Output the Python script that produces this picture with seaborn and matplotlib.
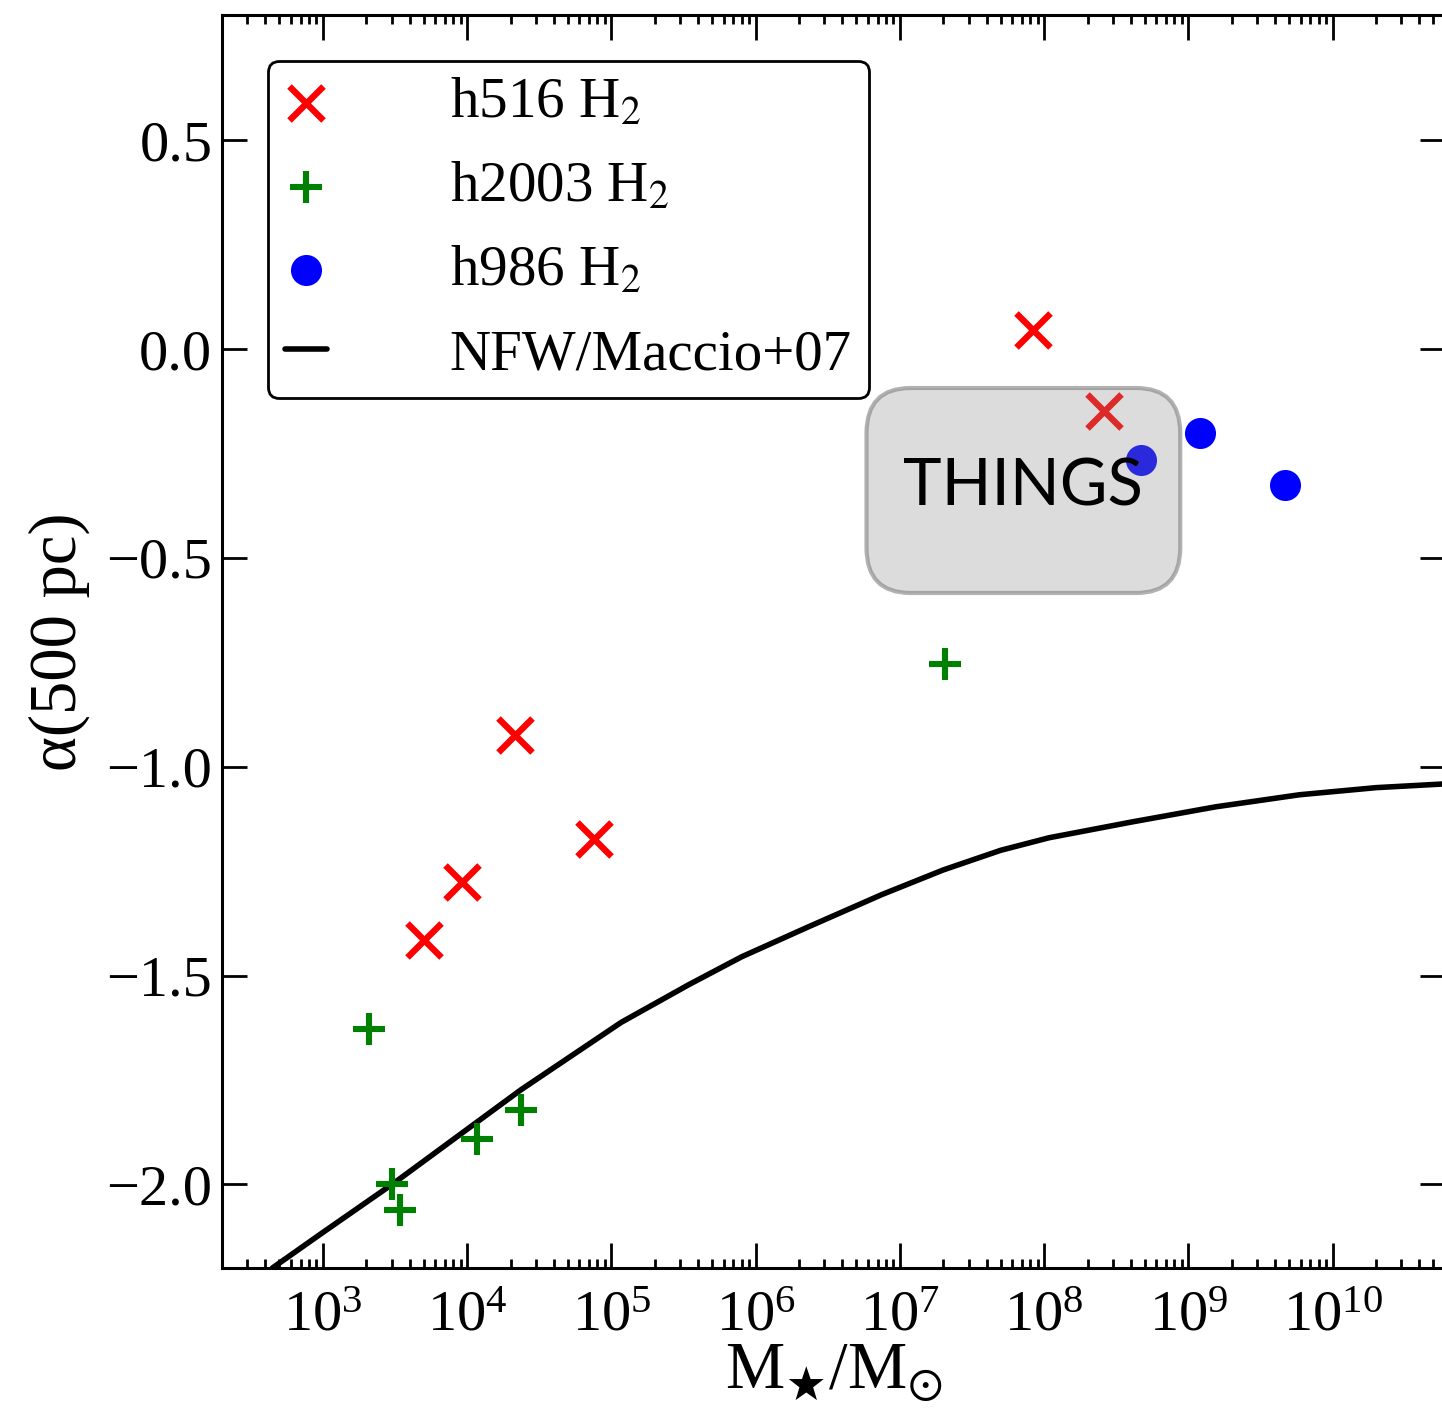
import matplotlib
matplotlib.use("Agg")
import matplotlib.pyplot as plt
import seaborn as sns
import numpy as np
from matplotlib.patches import FancyBboxPatch
from matplotlib.ticker import LogLocator, MultipleLocator, NullFormatter

# stellar mass (Msun) and inner slope alpha(500 pc)
h516_mstar = [5.0e3, 9.2e3, 2.15e4, 7.6e4, 8.4e7, 2.6e8]
h516_alpha = [-1.414, -1.275, -0.923, -1.172, 0.045, -0.148]

h2003_mstar = [2.1e3, 3.0e3, 3.4e3, 1.17e4, 2.37e4, 2.06e7]
h2003_alpha = [-1.627, -2.0, -2.062, -1.892, -1.821, -0.754]

h986_mstar = [4.7e8, 1.21e9, 4.7e9]
h986_alpha = [-0.266, -0.201, -0.325]

# NFW / Maccio+07 expectation
nfw_mstar = [4.47e2, 1.0e3, 3.16e3, 1.0e4, 2.37e4, 1.17e5, 3.43e5, 8.0e5, 2.33e6,
             7.5e6, 2.0e7, 5.0e7, 1.08e8, 4.08e8, 1.54e9, 5.9e9, 2.0e10, 6.0e10]
nfw_alpha = [-2.20, -2.115, -1.995, -1.868, -1.773, -1.612, -1.522, -1.455, -1.383,
             -1.306, -1.247, -1.200, -1.170, -1.132, -1.096, -1.067, -1.050, -1.041]

sns.set_style("ticks")
plt.rcParams['font.family'] = ['Liberation Serif', 'DejaVu Serif']
plt.rcParams['mathtext.fontset'] = 'stix'
plt.rcParams['axes.unicode_minus'] = True
for k in ['text.color', 'axes.labelcolor', 'xtick.color', 'ytick.color', 'axes.edgecolor']:
    plt.rcParams[k] = 'black'

fig = plt.figure(figsize=(7.21, 7.085), dpi=200)
ax = fig.add_axes([0.154, 0.1052, 0.848, 0.8842])

sns.scatterplot(x=h516_mstar, y=h516_alpha, ax=ax, marker="x", color="red",
                s=150, linewidth=2.3, label=r"h516 H$_2$", zorder=3)
sns.scatterplot(x=h2003_mstar, y=h2003_alpha, ax=ax, marker="+", color="green",
                s=135, linewidth=2.2, label=r"h2003 H$_2$", zorder=3)
sns.scatterplot(x=h986_mstar, y=h986_alpha, ax=ax, marker="o", color="blue",
                s=125, linewidth=0, label=r"h986 H$_2$", zorder=3)
sns.lineplot(x=nfw_mstar, y=nfw_alpha, ax=ax, color="black", lw=2.0,
             label="NFW/Maccio+07", zorder=2)

ax.set_xscale("log")
ax.set_xlim(2.0e2, 6.0e10)
ax.set_ylim(-2.2, 0.8)

ax.xaxis.set_major_locator(LogLocator(base=10, numticks=20))
ax.xaxis.set_minor_locator(LogLocator(base=10, subs=np.arange(2, 10), numticks=20))
ax.xaxis.set_minor_formatter(NullFormatter())
ax.yaxis.set_major_locator(MultipleLocator(0.5))

ax.tick_params(which="both", direction="in", top=True, right=True, labelsize=21,
               width=1.0, color="black")
ax.tick_params(which="major", length=9)
ax.tick_params(which="minor", length=3.3)
ax.tick_params(axis="x", which="major", pad=8)
for s in ax.spines.values():
    s.set_linewidth(1.1)
    s.set_color("black")

ax.set_xlabel(r"M$_{\bigstar}$/M$_{\odot}$", fontsize=24, labelpad=0)
ax.set_ylabel("α(500 pc)", fontsize=24, labelpad=6)

# THINGS region
box = FancyBboxPatch((0.527, 0.5387), 0.2566, 0.1636,
                     boxstyle="round,pad=0,rounding_size=0.036",
                     transform=ax.transAxes, facecolor=(0.55, 0.55, 0.55, 0.3),
                     edgecolor=(0.5, 0.5, 0.5, 0.6), linewidth=1.5, zorder=4)
ax.add_patch(box)
ax.text(0.527 + 0.2566 / 2, 0.5387 + 0.1636 / 2 + 0.003, "THINGS",
        transform=ax.transAxes, ha="center", va="center", fontsize=23.5,
        color="black", family=["Lato", "DejaVu Sans"], zorder=5)

leg = ax.legend(loc="upper left", fontsize=20.5, frameon=True, fancybox=True,
                edgecolor="black", framealpha=1, handlelength=0.75,
                handletextpad=2.15, borderaxespad=0.8, borderpad=0.3,
                labelspacing=0.56, scatterpoints=1)
leg.get_frame().set_linewidth(1.0)

plt.savefig("out.png", dpi=200)
